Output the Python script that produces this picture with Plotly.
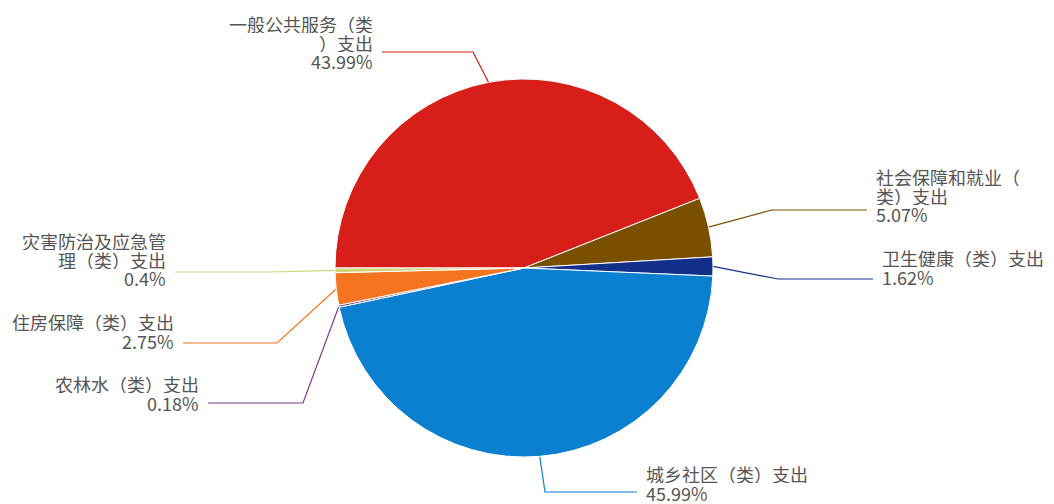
import math
import plotly.graph_objects as go

# ---------------- data ----------------
categories = [
    "一般公共服务（类）支出",
    "社会保障和就业（类）支出",
    "卫生健康（类）支出",
    "城乡社区（类）支出",
    "农林水（类）支出",
    "住房保障（类）支出",
    "灾害防治及应急管理（类）支出",
]
shares = [43.99, 5.07, 1.62, 45.99, 0.18, 2.75, 0.4]

# ---------------- styling / layout ----------------
colors = ["#d81e18", "#7a5000", "#132f8c", "#0b7fd0", "#7b3d8e", "#f6731f", "#cdd67a"]
W, H = 1054, 504
CX, CY, R = 524, 268, 189          # pie centre / radius in pixels
ROTATION = 270                      # first slice starts at 9 o'clock
wrap_at = [8, 8, 0, 0, 0, 0, 8]     # characters per label line (0 = no wrap)
label_side = ["left", "right", "right", "right", "left", "left", "left"]
elbow_x = [473, 772, 778, 545, 303, 277, 270]
line_y = [52, 210, 279, 492, 403, 343, 272]
line_len = [91, 95, 95, 92, 95, 94, 95]
first_line_y = [24, 177, 258, 474, 384, 322, 241]
LINE_STEP = 18.5
TEXT_GAP = 8
FONT = "Noto Sans CJK SC"
TEXT_COLOR = "#555555"
FONT_SIZE = 18

fig = go.Figure()

fig.add_trace(go.Pie(
    labels=categories,
    values=shares,
    sort=False,
    direction="clockwise",
    rotation=ROTATION,
    marker=dict(colors=colors, line=dict(color="#ffffff", width=1)),
    textinfo="none",
    hoverinfo="label+percent",
    showlegend=False,
    domain=dict(
        x=[(CX - R) / W, (CX + R) / W],
        y=[1 - (CY + R) / H, 1 - (CY - R) / H],
    ),
))

total = sum(shares)
cum = 0.0
annotations = []
for i, (name, v) in enumerate(zip(categories, shares)):
    mid = math.radians(ROTATION + (cum + v / 2) / total * 360)
    cum += v
    sx = CX + R * math.sin(mid)
    sy = CY - R * math.cos(mid)
    sign = -1 if label_side[i] == "left" else 1
    ex = elbow_x[i] + sign * line_len[i]
    fig.add_trace(go.Scatter(
        x=[sx, elbow_x[i], ex],
        y=[sy, line_y[i], line_y[i]],
        mode="lines",
        line=dict(color=colors[i], width=1.2),
        hoverinfo="skip",
        showlegend=False,
    ))
    # label lines
    n = wrap_at[i]
    parts = [name[k:k + n] for k in range(0, len(name), n)] if n else [name]
    parts.append(f"{v:g}%")
    tx = ex + sign * TEXT_GAP
    for j, p in enumerate(parts):
        annotations.append(dict(
            x=tx, y=first_line_y[i] + j * LINE_STEP,
            xref="x", yref="y",
            text=p, showarrow=False,
            xanchor="right" if label_side[i] == "left" else "left",
            yanchor="middle",
            height=18,
            borderpad=0,
            font=dict(family=FONT, size=FONT_SIZE, color=TEXT_COLOR),
        ))

fig.update_layout(
    width=W, height=H,
    margin=dict(l=0, r=0, t=0, b=0),
    paper_bgcolor="#ffffff",
    plot_bgcolor="rgba(0,0,0,0)",
    xaxis=dict(range=[0, W], visible=False, fixedrange=True),
    yaxis=dict(range=[H, 0], visible=False, fixedrange=True),
    annotations=annotations,
    showlegend=False,
)

fig.write_html(
    "out.html",
    config={"displayModeBar": False},
    post_script="document.body.style.margin='0';document.body.style.overflow='hidden';",
)
